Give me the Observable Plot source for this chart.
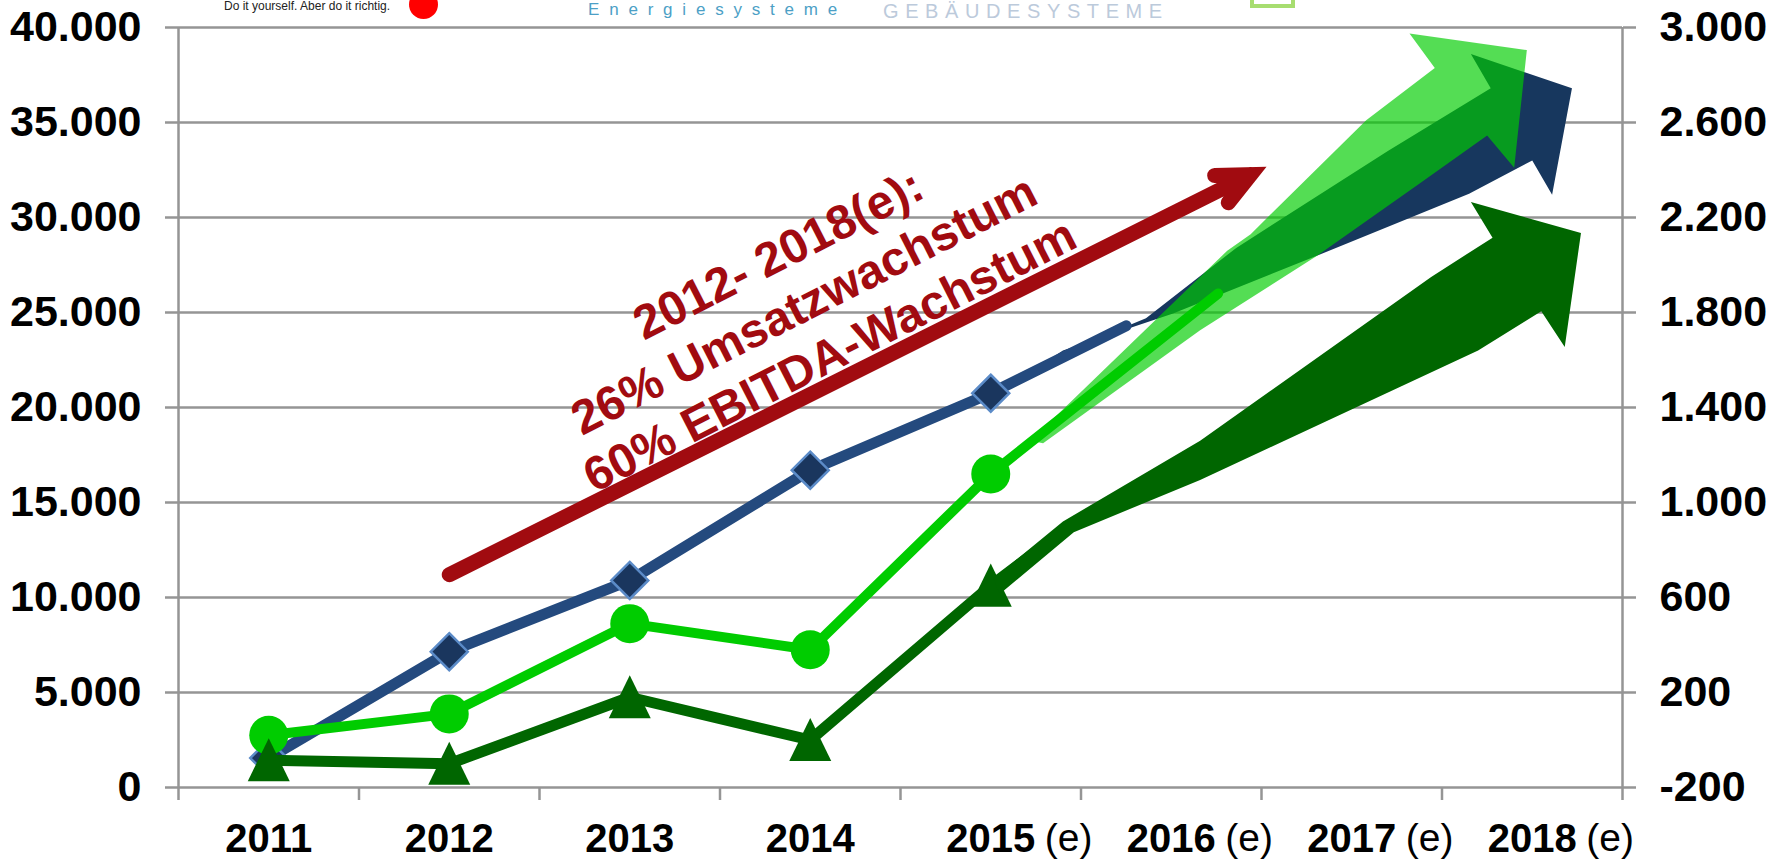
<!DOCTYPE html>
<html><head><meta charset="utf-8">
<script src="https://cdn.jsdelivr.net/npm/d3@7"></script>
<script src="https://cdn.jsdelivr.net/npm/@observablehq/plot@0.6"></script>
<style>
html,body{margin:0;padding:0;background:#fff;}
#wrap{position:relative;width:1787px;height:862px;overflow:hidden;font-family:"Liberation Sans",Arial,sans-serif;}
#chart svg{display:block;}
.logo{position:absolute;white-space:nowrap;line-height:1.15;}
#diy{left:224px;top:0px;font-size:12px;color:#222;}
#dot{left:409px;top:-10px;width:29px;height:29px;border-radius:50%;background:#f00;}
#energie{left:588px;top:0px;font-size:17px;letter-spacing:9.8px;color:#4c9fc6;}
#geb{left:883px;top:0px;font-size:20px;letter-spacing:6.6px;color:#bccadb;}
#box{left:1250px;top:-37px;width:37px;height:37px;border:4px solid #a7dd70;}
</style></head><body>
<div id="wrap"><div id="chart"></div>
<div class="logo" id="diy">Do it yourself. Aber do it richtig.</div>
<div class="logo" id="dot"></div>
<div class="logo" id="energie">Energiesysteme</div>
<div class="logo" id="geb">GEBÄUDESYSTEME</div>
<div class="logo" id="box"></div>
</div>
<script>
// ---- data ----
const years = [2011, 2012, 2013, 2014, 2015];
const umsatz = [1550, 7150, 10900, 16700, 20750];      // left axis
const ebitda = [20, 110, 490, 380, 1120];              // right axis
const ebit = [-85, -100, 180, 0, 650];                 // right axis
const leftTicks = [0, 5000, 10000, 15000, 20000, 25000, 30000, 35000, 40000];
const xLabels = [2011, 2012, 2013, 2014, 2015, 2016, 2017, 2018];
const estimated = [2015, 2016, 2017, 2018];
const bandEdges = [2010.5, 2011.5, 2012.5, 2013.5, 2014.5, 2015.5, 2016.5, 2017.5, 2018.5];
// trend continuation of each line beyond 2015
const umsatzTrend = [[2015.75, 24300]];
const ebitdaTrend = [[2016.26, 1880]];
const ebitTrend = [[2015.43, 895]];
// projection arrows 2015-2018(e): outline in (year, value)
const umsatzArrow = [[2015.12,21200],[2015.40,22900],[2015.86,24700],[2016.36,28400],[2017.20,33500],[2017.77,36800],[2017.66,38600],[2018.22,36800],[2018.11,31200],[2018.00,33000],[2017.65,31250],[2016.81,28000],[2016.01,24950],[2015.40,23000],[2015.16,21500]];
const ebitdaArrow = [[2015.22,1260],[2016.31,2060],[2016.44,2130],[2017.08,2610],[2017.46,2830],[2017.32,2975],[2017.97,2905],[2017.90,2410],[2017.75,2545],[2017.38,2345],[2016.81,2040],[2016.16,1725],[2015.29,1250]];
const ebitArrow = [[2015.015,680],[2015.40,920],[2016.16,1260],[2017.44,1950],[2017.78,2115],[2017.66,2265],[2018.27,2135],[2018.18,1655],[2018.05,1805],[2017.70,1640],[2016.16,1095],[2015.46,875],[2015.05,615]];
const growthArrow = [[2012.0, 11200], [2016.44, 32260]];
const growthText = "2012- 2018(e):\n26% Umsatzwachstum\n60% EBITDA-Wachstum";
const growthTextAt = [2013.96, 25500];

// right axis (-200..3000) mapped onto left axis (0..40000)
const R = r => (r + 200) * 12.5;
const fmt = d => d3.format(",")(d).replace(/,/g, ".").replace("\u2212", "-");
const rows = (xs, ys, f = v => v) => xs.map((x, i) => ({x, y: f(ys[i])}));
const pts = (arr, f = v => v) => arr.map(([x, y]) => ({x, y: f(y)}));

const diamondSym = {draw(ctx, size) {const r = Math.sqrt(size / Math.PI); ctx.moveTo(0, -r); ctx.lineTo(r, 0); ctx.lineTo(0, r); ctx.lineTo(-r, 0); ctx.closePath();}};
const triSym = {draw(ctx, size) {const r = Math.sqrt(size / Math.PI); ctx.moveTo(0, -1.05 * r); ctx.lineTo(r, r); ctx.lineTo(-r, r); ctx.closePath();}};

const gray = "#959595";
const red = "#a10b10";
const navy = "#17375e";
const blueLine = "#244a7e";
const green = "#00cc00";
const dark = "#006600";

const chart = Plot.plot({
  width: 1787, height: 862,
  marginLeft: 178, marginRight: 165, marginTop: 27, marginBottom: 75,
  x: {domain: [2010.5, 2018.5], label: null},
  y: {domain: [0, 40000], label: null},
  style: {fontFamily: "'Liberation Sans', Arial, sans-serif", background: "white", color: "black"},
  marks: [
    Plot.ruleY(leftTicks, {stroke: gray, strokeWidth: 2.5}),
    Plot.ruleX([bandEdges[0], bandEdges[bandEdges.length - 1]], {stroke: gray, strokeWidth: 2.5}),
    Plot.axisY({anchor: "left", ticks: leftTicks, tickSize: 13, tickPadding: 24, tickFormat: fmt, fontSize: 43, fontWeight: "bold", stroke: gray, strokeWidth: 2.5, color: "black", label: null}),
    Plot.axisY({anchor: "right", ticks: leftTicks, tickSize: 13, tickPadding: 24, tickFormat: v => fmt(v / 12.5 - 200), fontSize: 43, fontWeight: "bold", stroke: gray, strokeWidth: 2.5, color: "black", label: null}),
    Plot.axisX({ticks: bandEdges, tickSize: 13, tickFormat: () => "", stroke: gray, strokeWidth: 2.5, label: null}),
    Plot.axisX({ticks: xLabels, tickSize: 0, tickPadding: 36, tickFormat: d => String(d), fontSize: 40, fontWeight: "bold", color: "black", label: null}),
    Plot.text(estimated, {x: d => d, frameAnchor: "bottom", dy: 36, dx: 54, lineAnchor: "top", textAnchor: "start", text: () => "(e)", fontSize: 39, fill: "black"}),

    // Umsatz
    Plot.line(pts(umsatzArrow), {x: "x", y: "y", fill: navy, stroke: "none"}),
    Plot.line(rows(years, umsatz).concat(pts(umsatzTrend)), {x: "x", y: "y", stroke: blueLine, strokeWidth: 11, strokeLinejoin: "round"}),
    Plot.dot(rows(years, umsatz), {x: "x", y: "y", r: 18.5, symbol: diamondSym, fill: "#1a365e", stroke: "#5b8bc8", strokeWidth: 2.5}),

    // EBITDA
    Plot.line(rows(years, ebitda, R).concat(pts(ebitdaTrend, R)), {x: "x", y: "y", stroke: green, strokeWidth: 10, strokeLinejoin: "round"}),
    Plot.dot(rows(years, ebitda, R), {x: "x", y: "y", r: 19.5, fill: green}),
    Plot.line(pts(ebitdaArrow, R), {x: "x", y: "y", fill: green, fillOpacity: 0.67, stroke: "none"}),

    // EBIT
    Plot.line(rows(years, ebit, R).concat(pts(ebitTrend, R)), {x: "x", y: "y", stroke: dark, strokeWidth: 11, strokeLinejoin: "round"}),
    Plot.dot(rows(years, ebit, R), {x: "x", y: "y", r: 21, symbol: triSym, fill: dark}),
    Plot.line(pts(ebitArrow, R), {x: "x", y: "y", fill: dark, stroke: "none"}),

    // growth annotation
    Plot.arrow([growthArrow], {x1: d => d[0][0], y1: d => d[0][1], x2: d => d[1][0], y2: d => d[1][1], stroke: red, strokeWidth: 15, headAngle: 50, headLength: 3.6, strokeLinecap: "round", strokeLinejoin: "miter", strokeMiterlimit: 10}),
    Plot.text([growthText], {x: () => growthTextAt[0], y: () => growthTextAt[1], text: d => d, rotate: -27, fontSize: 48, fontWeight: "bold", fill: red, lineHeight: 1.18, textAnchor: "middle", lineAnchor: "middle"})
  ]
});
document.getElementById("chart").appendChild(chart);
</script>
</body></html>
